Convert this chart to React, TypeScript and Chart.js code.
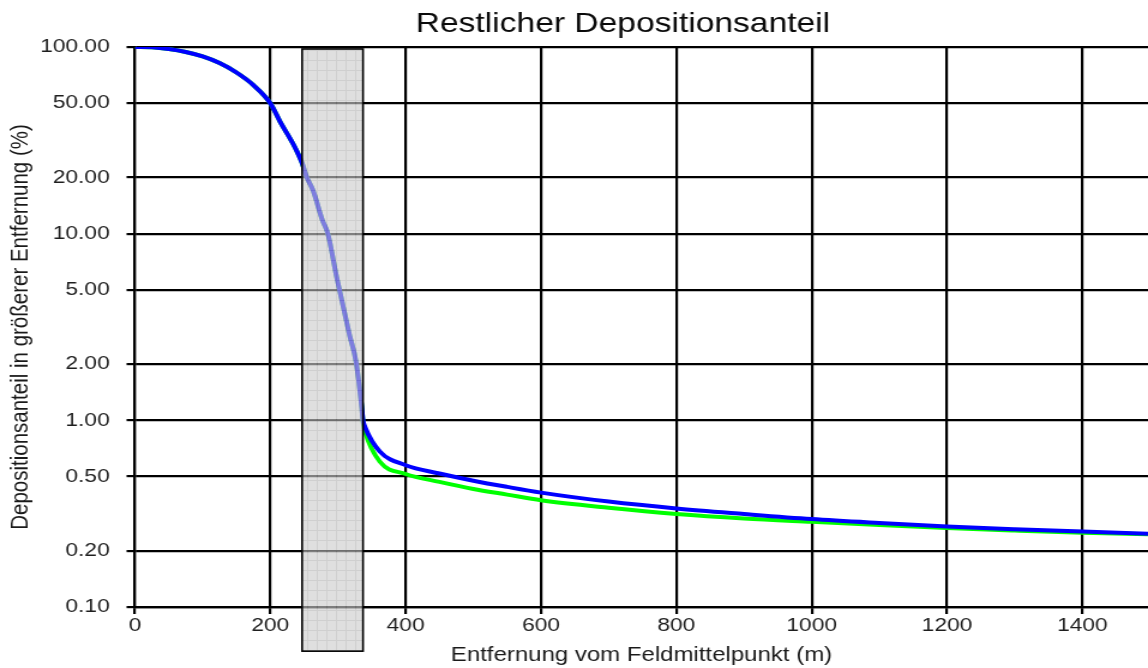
import React, { useEffect, useRef } from "react";
import { Chart, registerables } from "chart.js";

Chart.register(...registerables);

// ---------- data ----------
const chartTitle = "Restlicher Depositionsanteil";
const xAxisTitle = "Entfernung vom Feldmittelpunkt (m)";
const yAxisTitle = "Depositionsanteil in größerer Entfernung (%)";

const blueDistances = [0, 25, 50, 75, 100, 125, 150, 175, 200, 215, 233, 240, 247, 254, 263, 277, 285, 298, 317, 327, 335, 337, 340, 362, 400, 450, 500, 550, 600, 700, 800, 900, 1000, 1100, 1200, 1300, 1400, 1497];
const blueValues = [100, 99.6, 97.5, 94, 89, 82, 73, 62.5, 50, 39.5, 30.6, 27.3, 23.9, 20, 17.1, 11.8, 10, 5.86, 2.87, 2.03, 1.18, 1.0, 0.92, 0.68, 0.575, 0.519, 0.475, 0.44, 0.41, 0.367, 0.337, 0.315, 0.296, 0.282, 0.27, 0.261, 0.2535, 0.247];

const greenDistances = [0, 25, 50, 75, 100, 125, 150, 175, 200, 215, 233, 240, 247, 254, 263, 277, 285, 298, 317, 327, 335, 337, 340, 362, 400, 450, 500, 550, 600, 700, 800, 900, 1000, 1100, 1200, 1300, 1400, 1497];
const greenValues = [100, 99.6, 97.5, 94, 89, 82, 73, 62.5, 50, 39.5, 30.6, 27.3, 23.9, 20, 17.1, 11.8, 10, 5.86, 2.87, 2.03, 1.18, 0.98, 0.87, 0.6, 0.516, 0.468, 0.429, 0.4, 0.373, 0.34, 0.315, 0.298, 0.286, 0.275, 0.265, 0.257, 0.25, 0.245];

const xTickValues = [0, 200, 400, 600, 800, 1000, 1200, 1400];
const yTickValues = [0.1, 0.2, 0.5, 1, 2, 5, 10, 20, 50, 100];
const xRange = [0, 1497];
const yRange = [0.1, 100];

// shaded field band (distance range, value range)
const bandDistances = [247, 337];
const bandValues = [97.6, 0.058];

// ---------- layout ----------
const DISPLAY_W = 1148;
const DISPLAY_H = 668;
const STRETCH = 1.2;
const INNER_W = Math.round(DISPLAY_W / STRETCH);
const FONT = '"Liberation Sans", Arial, Helvetica, sans-serif';

function makePattern(ctx: CanvasRenderingContext2D): CanvasPattern | string {
  const tile = document.createElement("canvas");
  tile.width = 8;
  tile.height = 10;
  const t = tile.getContext("2d");
  if (!t) return "#cbcbcb";
  t.fillStyle = "#cbcbcb";
  t.fillRect(0, 0, 8, 10);
  t.fillStyle = "#b2b2b2";
  t.fillRect(0, 0, 8, 1);
  t.fillRect(0, 0, 1, 10);
  const p = ctx.createPattern(tile, "repeat");
  return p || "#cbcbcb";
}

const bandPlugin = {
  id: "fieldBand",
  afterDatasetsDraw(chart: any) {
    const { ctx, scales } = chart;
    const x0 = scales.x.getPixelForValue(bandDistances[0]);
    const x1 = scales.x.getPixelForValue(bandDistances[1]);
    const y0 = scales.y.getPixelForValue(bandValues[0]);
    const y1 = scales.y.getPixelForValue(bandValues[1]);
    ctx.save();
    ctx.globalAlpha = 0.62;
    ctx.fillStyle = makePattern(ctx);
    ctx.fillRect(x0, y0, x1 - x0, y1 - y0);
    ctx.globalAlpha = 1;
    ctx.strokeStyle = "#000";
    ctx.lineWidth = 1.6;
    ctx.strokeRect(x0, y0, x1 - x0, y1 - y0);
    ctx.restore();
  },
};

const titlePlugin = {
  id: "customTitle",
  afterDraw(chart: any) {
    const { ctx, chartArea } = chart;
    ctx.save();
    ctx.font = `28px ${FONT}`;
    ctx.fillStyle = "#0a0a0a";
    ctx.textAlign = "center";
    ctx.textBaseline = "alphabetic";
    const cx = chartArea.left + (chartArea.right - chartArea.left) * 0.4817;
    ctx.fillText(chartTitle, cx, 32);
    ctx.restore();
  },
};

export default function App() {
  const canvasRef = useRef<HTMLCanvasElement | null>(null);

  useEffect(() => {
    document.body.style.margin = "0";
    const canvas = canvasRef.current;
    if (!canvas) return;

    const chart = new Chart(canvas, {
      type: "line",
      data: {
        datasets: [
          {
            label: "blau",
            data: blueDistances.map((d, i) => ({ x: d, y: blueValues[i] })),
            borderColor: "#0000ff",
            backgroundColor: "#0000ff",
            borderWidth: 4,
            pointRadius: 0,
            cubicInterpolationMode: "monotone",
            fill: false,
          },
          {
            label: "grün",
            data: greenDistances.map((d, i) => ({ x: d, y: greenValues[i] })),
            borderColor: "#00ff00",
            backgroundColor: "#00ff00",
            borderWidth: 4,
            pointRadius: 0,
            cubicInterpolationMode: "monotone",
            fill: false,
          },
        ],
      },
      options: {
        responsive: false,
        animation: false,
        devicePixelRatio: 1,
        layout: { padding: { top: 47, left: 0, right: 0, bottom: 0 } },
        plugins: {
          legend: { display: false },
          title: { display: false },
          tooltip: { enabled: false },
        },
        scales: {
          x: {
            type: "linear",
            min: xRange[0],
            max: xRange[1],
            afterBuildTicks: (s: any) => {
              s.ticks = xTickValues.map((v) => ({ value: v }));
            },
            afterFit: (s: any) => {
              s.height = DISPLAY_H - 607;
            },
            ticks: {
              callback: (v: any) => String(v),
              font: { family: FONT, size: 19 },
              color: "#1e1e1e",
              padding: 0,
              maxRotation: 0,
              autoSkip: false,
            },
            grid: { color: "#000", lineWidth: 2.2, tickLength: 7 },
            border: { color: "#000", width: 2.2 },
            title: {
              display: true,
              text: xAxisTitle,
              font: { family: FONT, size: 20 },
              color: "#1a1a1a",
              padding: { top: 0, bottom: 1 },
            },
          },
          y: {
            type: "logarithmic",
            min: yRange[0],
            max: yRange[1],
            afterBuildTicks: (s: any) => {
              s.ticks = yTickValues.map((v) => ({ value: v }));
            },
            afterFit: (s: any) => {
              s.width = 135 / STRETCH;
            },
            ticks: {
              callback: (v: any) => Number(v).toFixed(2),
              font: { family: FONT, size: 19 },
              color: "#1e1e1e",
              padding: 14,
              autoSkip: false,
            },
            grid: { color: "#000", lineWidth: 2.2, tickLength: 7 },
            border: { color: "#000", width: 2.2 },
            title: {
              display: true,
              text: yAxisTitle,
              font: { family: FONT, size: 20.5 },
              color: "#1a1a1a",
              padding: { top: 5, bottom: 0 },
            },
          },
        },
      } as any,
      plugins: [bandPlugin, titlePlugin],
    });

    return () => {
      chart.destroy();
    };
  }, []);

  return (
    <div
      style={{
        position: "absolute",
        left: 0,
        top: 0,
        width: DISPLAY_W,
        height: DISPLAY_H,
        overflow: "hidden",
        background: "#fff",
      }}
    >
      <canvas
        ref={canvasRef}
        width={INNER_W}
        height={DISPLAY_H}
        style={{ width: DISPLAY_W + "px", height: DISPLAY_H + "px", display: "block" }}
      />
    </div>
  );
}
